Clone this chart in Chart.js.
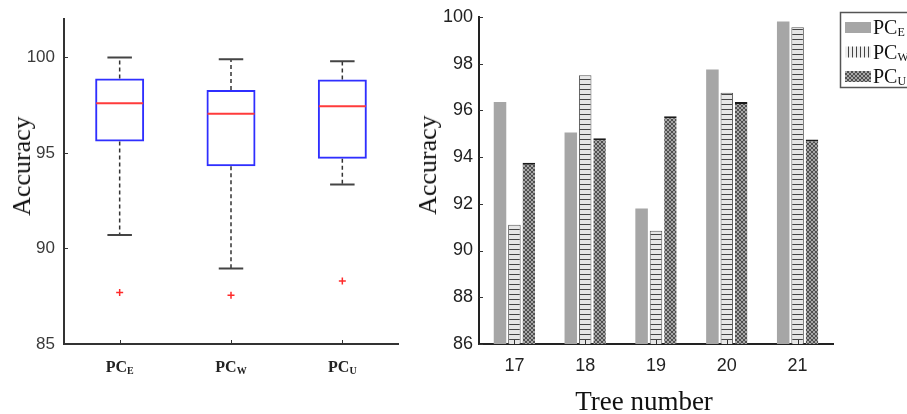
<!DOCTYPE html>
<html lang="en">
<head>
<meta charset="UTF-8">
<title>Accuracy | Box plot and tree number</title>
<script src="https://cdn.jsdelivr.net/npm/chart.js"></script>
<style>
  body { margin: 0; background: #fff; width: 907px; height: 414px; overflow: hidden; position: relative; }
  canvas { position: absolute; top: 0; }
  #boxChart { left: 0; }
  #barChart { left: 420px; }
  .axisTitle { position: absolute; font-family: "Liberation Serif", serif; color: #111; white-space: nowrap; z-index: 2; }
  .rot { transform: translate(-50%, -50%) rotate(-90deg); }
  .flat { transform: translate(-50%, -50%); }
</style>
</head>
<body>

<canvas id="boxChart" width="420" height="414"></canvas>
<canvas id="barChart" width="487" height="414"></canvas>

<div class="axisTitle rot" style="left:22px; top:166px; font-size:26px;">Accuracy</div>
<div class="axisTitle rot" style="left:428px; top:165px; font-size:26px;">Accuracy</div>
<div class="axisTitle flat" style="left:644px; top:401px; font-size:27px;">Tree number</div>

<script>
  // ---- data: box plot (left) ----
  const methods = ['E', 'W', 'U'];              // subscripts of PC
  const whiskerHi = [100.0, 99.9, 99.8];
  const q3 = [98.9, 98.3, 98.85];
  const median = [97.6, 97.05, 97.45];
  const q1 = [95.6, 94.3, 94.7];
  const whiskerLo = [90.7, 88.95, 93.35];
  const outliers = [87.7, 87.55, 88.3];
  const boxTicks = [85, 90, 95, 100];

  // ---- data: accuracy per tree number (right) ----
  const trees = ['17', '18', '19', '20', '21'];
  const accE = [96.35, 95.05, 91.8, 97.75, 99.8];
  const accW = [91.1, 97.5, 90.85, 96.75, 99.55];
  const accU = [93.75, 94.8, 95.75, 96.35, 94.75];

  const serif = '"Liberation Serif", serif';
  const sans = '"Liberation Sans", Arial, sans-serif';

  function makePattern(w, h, draw) {
    const c = document.createElement('canvas');
    c.width = w; c.height = h;
    const g = c.getContext('2d');
    draw(g);
    return g.createPattern(c, 'repeat');
  }

  // horizontal ladder for PC_W bars
  const ladder = makePattern(1, 5, g => {
    g.fillStyle = '#e6e6e6'; g.fillRect(0, 0, 1, 5);
    g.fillStyle = '#444'; g.fillRect(0, 4, 1, 1);
  });
  const hatch = makePattern(4, 4, g => {
    g.fillStyle = '#a8a8a8'; g.fillRect(0, 0, 4, 4);
    g.fillStyle = '#505050';
    for (let i = 0; i < 4; i++) { g.fillRect(i, i, 1, 1); g.fillRect(3 - i, i, 1, 1); }
  });
  const vlines = makePattern(4, 1, g => {
    g.fillStyle = '#eeeeee'; g.fillRect(0, 0, 4, 1);
    g.fillStyle = '#444'; g.fillRect(0, 0, 1, 1);
  });

  // small inward tick marks (MATLAB style)
  const innerTicks = {
    id: 'innerTicks',
    afterDraw(chart) {
      const ctx = chart.ctx, x = chart.scales.x, y = chart.scales.y;
      ctx.save();
      ctx.strokeStyle = '#333';
      ctx.lineWidth = 1;
      y.ticks.forEach((t, i) => {
        const py = Math.round(y.getPixelForTick(i)) + 0.5;
        ctx.beginPath(); ctx.moveTo(x.left, py); ctx.lineTo(x.left + 4, py); ctx.stroke();
      });
      x.ticks.forEach((t, i) => {
        const px = Math.round(x.getPixelForTick(i)) + 0.5;
        ctx.beginPath(); ctx.moveTo(px, y.bottom); ctx.lineTo(px, y.bottom - 4); ctx.stroke();
      });
      ctx.restore();
    }
  };

  // whiskers, caps, medians and PC labels for the box plot
  const boxParts = {
    id: 'boxParts',
    afterDatasetsDraw(chart) {
      const ctx = chart.ctx, y = chart.scales.y, x = chart.scales.x;
      const meta = chart.getDatasetMeta(0);
      meta.data.forEach((bar, i) => {
        const cx = bar.x, half = bar.width / 2;
        ctx.save();
        ctx.strokeStyle = '#333';
        ctx.lineWidth = 1.5;
        ctx.setLineDash([4, 3]);
        ctx.beginPath();
        ctx.moveTo(cx, y.getPixelForValue(q3[i])); ctx.lineTo(cx, y.getPixelForValue(whiskerHi[i]));
        ctx.moveTo(cx, y.getPixelForValue(q1[i])); ctx.lineTo(cx, y.getPixelForValue(whiskerLo[i]));
        ctx.stroke();
        ctx.setLineDash([]);
        ctx.strokeStyle = '#444';
        ctx.lineWidth = 2;
        ctx.beginPath();
        [whiskerHi[i], whiskerLo[i]].forEach(v => {
          const py = y.getPixelForValue(v);
          ctx.moveTo(cx - half / 2, py); ctx.lineTo(cx + half / 2, py);
        });
        ctx.stroke();
        ctx.strokeStyle = '#ff3b3b';
        ctx.beginPath();
        const pm = y.getPixelForValue(median[i]);
        ctx.moveTo(cx - half + 1, pm); ctx.lineTo(cx + half - 1, pm);
        ctx.stroke();
        ctx.restore();
      });
      // x labels PC with subscript
      ctx.save();
      ctx.fillStyle = '#222';
      ctx.textBaseline = 'alphabetic';
      methods.forEach((m, i) => {
        const px = x.getPixelForValue(i);
        ctx.font = 'bold 16px ' + serif;
        const w1 = ctx.measureText('PC').width;
        ctx.font = 'bold 10px ' + serif;
        const w2 = ctx.measureText(m).width;
        const start = px - (w1 + w2) / 2;
        ctx.font = 'bold 16px ' + serif;
        ctx.fillText('PC', start, 372);
        ctx.font = 'bold 10px ' + serif;
        ctx.fillText(m, start + w1, 374);
      });
      ctx.restore();
    }
  };

  const boxChart = new Chart(document.getElementById('boxChart'), {
    type: 'bar',
    data: {
      labels: methods.map(m => 'PC' + m),
      datasets: [{
        data: q1.map((v, i) => [v, q3[i]]),
        backgroundColor: 'rgba(0,0,0,0)',
        borderColor: '#2f2fff',
        borderWidth: 2,
        borderSkipped: false,
        barPercentage: 0.44,
        categoryPercentage: 1
      }, {
        type: 'line',
        data: outliers,
        showLine: false,
        pointStyle: 'cross',
        pointRadius: 3.5,
        pointBorderWidth: 1.5,
        borderColor: '#ff2a2a',
        backgroundColor: '#ff2a2a'
      }]
    },
    options: {
      responsive: false,
      animation: false,
      layout: { padding: { top: 10, right: 22, left: 0, bottom: 0 } },
      plugins: { legend: { display: false }, tooltip: { enabled: false } },
      scales: {
        x: {
          grid: { display: false, drawTicks: false },
          border: { color: '#333', width: 2 },
          ticks: { display: false },
          afterFit(s) { s.height = 70; }
        },
        y: {
          min: 85,
          max: 102,
          grid: { display: false, drawTicks: false },
          border: { color: '#333', width: 2 },
          ticks: { stepSize: 5, padding: 9, color: '#3a3a3a', font: { family: sans, size: 17 } },
          afterBuildTicks(s) { s.ticks = boxTicks.map(v => ({ value: v })); },
          afterFit(s) { s.width = 64; }
        }
      }
    },
    plugins: [boxParts, innerTicks]
  });

  // legend for the bar chart, drawn with the same fills
  const barLegend = {
    id: 'barLegend',
    afterDraw(chart) {
      const ctx = chart.ctx;
      const left = chart.chartArea.right + 7;
      ctx.save();
      ctx.fillStyle = '#fff';
      ctx.fillRect(left, 12, 90, 75);
      ctx.strokeStyle = '#555';
      ctx.lineWidth = 1.5;
      ctx.strokeRect(left + 0.5, 12.5, 90, 75);
      const fills = ['#a6a6a6', vlines, hatch];
      fills.forEach((f, i) => {
        const cy = 27 + i * 24.5;
        ctx.fillStyle = f;
        ctx.fillRect(left + 5, cy - 5, 26, 11);
        ctx.fillStyle = '#111';
        ctx.font = '20px ' + serif;
        ctx.textBaseline = 'alphabetic';
        ctx.fillText('PC', left + 33, cy + 7);
        const w = ctx.measureText('PC').width;
        ctx.font = '12px ' + serif;
        ctx.fillText(methods[i], left + 33 + w, cy + 9);
      });
      ctx.restore();
    }
  };

  const barChart = new Chart(document.getElementById('barChart'), {
    type: 'bar',
    data: {
      labels: trees,
      datasets: [{
        data: accE,
        backgroundColor: '#a6a6a6',
        borderWidth: 0
      }, {
        data: accW,
        backgroundColor: ladder,
        borderColor: '#555',
        borderWidth: { top: 1, left: 1, right: 1, bottom: 0 },
        borderSkipped: false
      }, {
        data: accU,
        backgroundColor: hatch,
        borderColor: '#1a1a1a',
        borderWidth: { top: 2, left: 0, right: 0, bottom: 0 },
        borderSkipped: false
      }]
    },
    options: {
      responsive: false,
      animation: false,
      datasets: { bar: { categoryPercentage: 0.61, barPercentage: 0.87 } },
      layout: { padding: { top: 11, right: 74, left: 0, bottom: 0 } },
      plugins: { legend: { display: false }, tooltip: { enabled: false } },
      scales: {
        x: {
          grid: { display: false, drawTicks: false },
          border: { color: '#222', width: 2 },
          ticks: { padding: 11, color: '#222', font: { family: sans, size: 18 } },
          afterFit(s) { s.height = 70; }
        },
        y: {
          min: 86,
          max: 100,
          grid: { display: false, drawTicks: false },
          border: { color: '#222', width: 2 },
          ticks: { stepSize: 2, padding: 6, color: '#222', font: { family: sans, size: 18 } },
          afterFit(s) { s.width = 59; }
        }
      }
    },
    plugins: [innerTicks, barLegend]
  });
</script>
</body>
</html>
